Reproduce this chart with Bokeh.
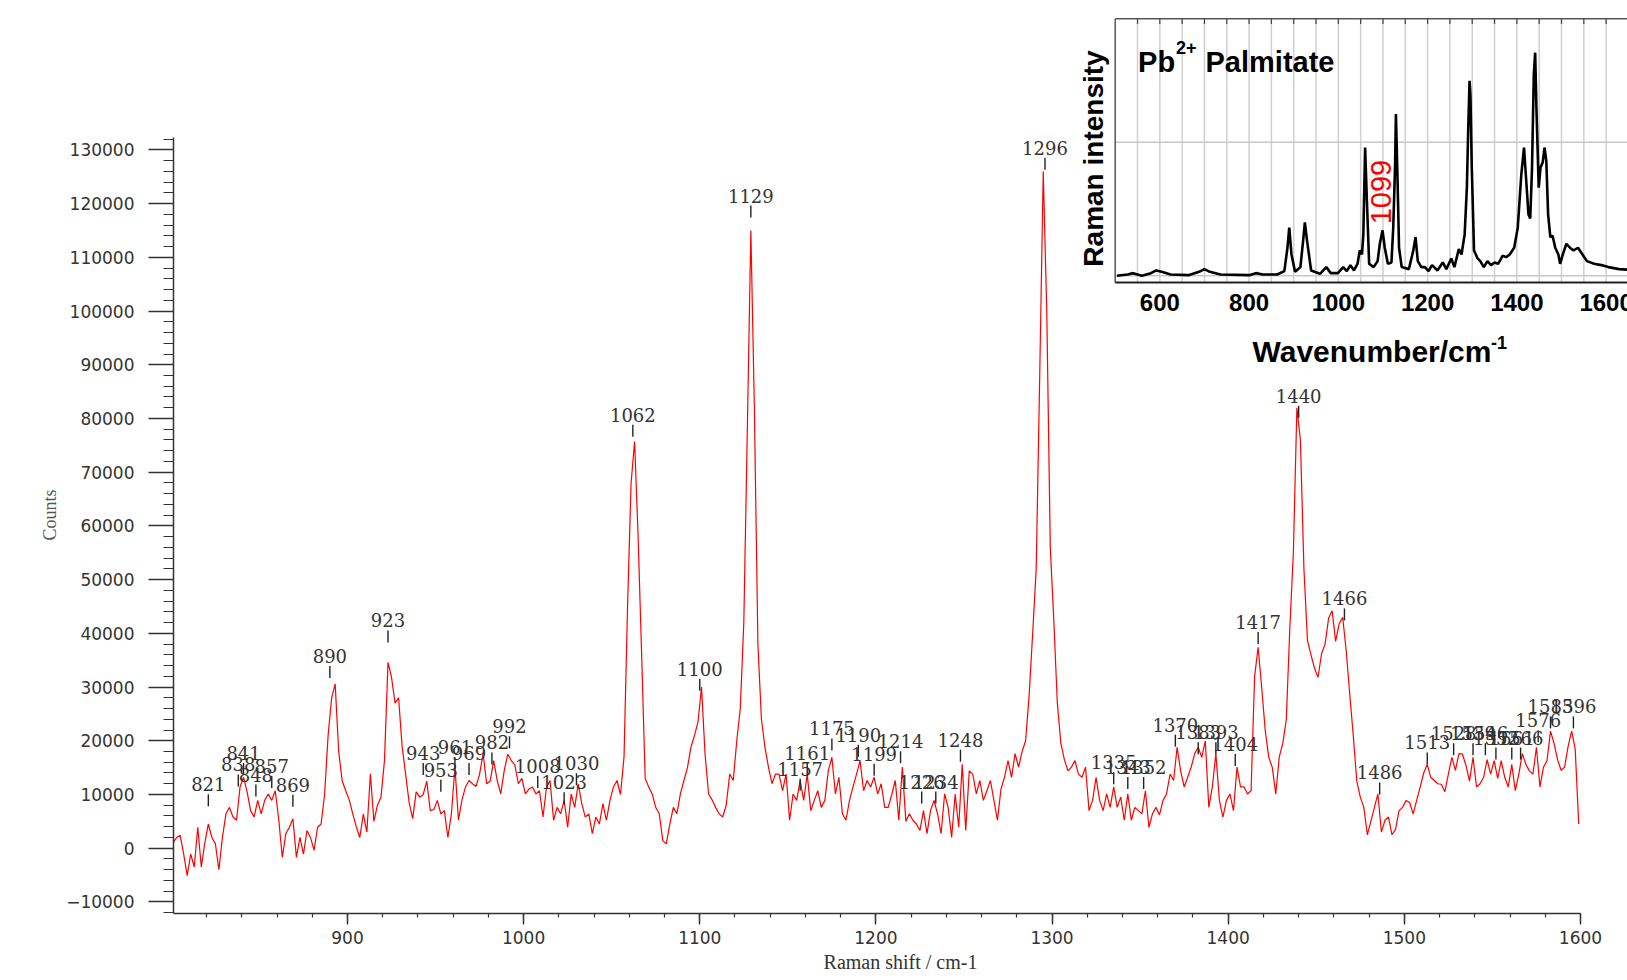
import numpy as np
from bokeh.plotting import figure
from bokeh.models import Range1d, SingleIntervalTicker, BasicTickFormatter, Title
from bokeh.core.properties import value
from bokeh.embed import file_html
from bokeh.resources import INLINE

# ---------------- main spectrum (counts, in thousands), sampled every 2 cm-1 -------------
SPEC_STEP = 2
seg_801 = [1.0, 2.0, 2.4, -1.1, -5.1, -1.1, -3.5, 3.9, -3.5, 1.0,
           4.5, 2.0, 0.8, -4.0, 2.0, 6.4, 7.6, 5.8, 5.2, 11.4,
           13.2, 10.5, 7.0, 5.8, 8.9, 6.4, 8.9, 10.1, 8.9, 10.7,
           5.2, -1.7, 2.7, 3.9, 5.5, -1.7, 2.0, -1.1, 3.3, 2.0,
           -0.4, 3.9, 4.5, 10.0, 21.0, 28.0, 30.6, 18.0, 12.5, 10.7,
           9.0, 6.4, 4.0, 2.0, 6.4, 3.0, 13.8, 5.0, 8.0, 9.5,
           16.3, 34.6, 31.8, 27.0, 28.0, 19.0, 13.8, 8.5, 5.5, 10.5,
           9.5, 10.0, 12.5, 7.0, 7.2, 8.9, 6.4, 7.0, 2.0, 6.4,
           15.1, 5.2, 9.0, 11.4, 12.6, 12.0, 11.5, 13.8, 17.6, 12.0,
           12.5, 16.3, 12.6, 10.1, 14.5, 17.5, 16.3, 15.5, 12.0, 13.0,
           10.1, 11.0]
seg_1005 = [11.4, 10.1, 10.7, 5.8, 11.4, 12.6, 5.2, 7.6, 6.4, 8.9,
            3.9, 10.1, 7.6, 12.0, 8.3, 5.8, 6.4, 2.7, 5.8, 4.5,
            8.3, 5.2, 8.9, 11.4, 12.6, 10.0, 17.0, 45.0, 68.0, 75.7,
            58.0, 36.0, 13.0]
seg_1071 = [11.4, 10.1, 7.6, 6.4, 1.4, 0.8, 4.5, 7.6, 6.4, 10.1,
            12.6, 15.0, 18.8, 21.0, 23.5, 30.0, 17.5, 10.1, 9.0, 7.6,
            6.4, 5.8, 8.0, 13.8, 12.6, 20.0, 26.0, 42.0, 78.0, 115.0,
            82.0, 38.0]
seg_1135 = [24.0, 18.8, 15.1, 12.0, 13.8, 13.8, 10.7, 13.8, 5.2, 10.1,
            8.9, 12.6, 8.9, 13.8, 7.0, 8.9, 10.7, 7.6, 8.9, 14.5,
            16.9, 10.1, 13.2, 6.4, 5.2, 8.9, 11.4, 13.8, 16.3, 10.7,
            12.6, 11.4, 13.2, 10.1, 12.0, 7.6]
seg_1207 = [7.6, 10.0, 12.6, 5.2, 15.1, 5.0, 6.4, 5.2, 4.5, 3.3,
            7.0, 2.7, 7.0, 8.9, 6.4, 2.7, 10.1, 7.6, 2.0, 10.1,
            3.9, 15.6, 3.3, 14.4, 13.8, 10.1, 12.6, 8.9, 10.7, 12.6,
            8.9, 5.2, 11.0, 13.2, 16.3, 13.2, 17.6, 15.1, 18.0]
seg_1285 = [20.0, 28.5, 40.0, 52.0, 88.0, 126.0, 100.0, 56.0, 42.4, 27.0,
            19.5, 16.5]
seg_1309 = [14.4, 15.1, 16.3, 13.8, 13.2, 15.1, 7.0, 8.9, 13.2, 8.9,
            7.0, 10.1, 7.6, 11.4, 7.6, 9.5, 5.2, 10.1, 5.2, 7.6,
            7.0, 6.4, 10.7, 3.9, 6.4, 7.6, 6.2, 8.9, 10.1, 13.8,
            12.6, 18.8, 14.4, 11.4, 13.2, 15.1, 17.6, 18.8, 16.9, 20.0,
            7.6, 11.4, 17.6, 8.9, 5.8, 8.9, 10.1, 7.0, 15.1, 11.4]
seg_1409 = [11.4, 10.1, 10.7, 32.0, 37.4, 30.0, 22.0, 17.0, 15.1, 10.1,
            17.0, 19.5, 24.0, 41.1, 55.0, 82.0, 76.0, 52.0, 38.7, 36.0,
            33.5, 31.8, 36.2, 38.0, 42.8, 44.2, 38.5, 41.8, 43.0, 36.8,
            28.7, 21.0, 12.5, 9.5, 7.6, 2.5, 5.0, 7.6, 10.1, 3.0,
            5.2, 5.8, 2.5, 3.5, 7.0, 7.6, 8.9, 8.5, 6.4, 8.9,
            11.4, 14.0, 15.6, 13.2, 12.6, 12.0, 11.9, 10.5, 13.8, 16.9,
            14.5, 17.6, 17.5, 15.4, 12.5, 16.9, 11.4, 12.0, 13.2, 16.5,
            13.8, 16.3, 13.0, 16.3, 13.2, 11.4, 15.6, 10.7, 13.8, 17.6,
            15.6, 14.4, 13.8, 18.8, 11.4, 15.1, 16.3, 21.8, 19.5, 16.5,
            14.5, 15.1, 19.0, 21.8, 18.5, 4.5]
segments = [(801, seg_801), (1005, seg_1005), (1071, seg_1071), (1135, seg_1135),
            (1207, seg_1207), (1285, seg_1285), (1309, seg_1309), (1409, seg_1409)]

# ---------------- peak labels (wavenumber, label height in thousands of counts) ----------
peak_wn = [821, 838, 841, 848, 857, 869, 890, 923, 943, 953, 961, 969, 982, 992,
           1008, 1023, 1030, 1062, 1100, 1129, 1157, 1161, 1175, 1190, 1199, 1214,
           1226, 1234, 1248, 1296, 1335, 1343, 1352, 1370, 1383, 1393, 1404, 1417,
           1440, 1466, 1486, 1513, 1528, 1539, 1546, 1552, 1561, 1566, 1576, 1583, 1596]
peak_h = [11.9, 15.6, 17.7, 13.7, 15.3, 11.8, 35.8, 42.4, 17.7, 14.6, 18.8, 17.7, 19.7, 22.7,
          15.3, 12.3, 15.8, 80.7, 33.4, 121.5, 14.8, 17.7, 22.3, 21.1, 17.6, 19.9,
          12.4, 12.4, 20.2, 130.4, 16.0, 15.1, 15.1, 23.0, 21.6, 21.6, 19.4, 42.1,
          84.2, 46.5, 14.1, 19.7, 21.4, 21.4, 21.4, 20.6, 20.6, 20.6, 23.8, 26.4, 26.4]

# ---------------- inset: Pb2+ palmitate reference spectrum ---------------------------
inset_wn = [504, 528, 540, 560, 580, 592, 604, 624, 664, 688, 700, 712, 736, 800, 815, 831,
            863, 879, 886, 890, 895, 903, 915, 921, 925, 930, 939, 959, 973, 983, 999,
            1011, 1019, 1027, 1035, 1043, 1048, 1053, 1056, 1060, 1064, 1069, 1079, 1088,
            1093, 1099, 1104, 1111, 1119, 1123, 1127, 1129, 1132, 1136, 1142, 1158, 1168,
            1173, 1178, 1186, 1194, 1202, 1210, 1222, 1234, 1242, 1253, 1260, 1270, 1276,
            1283, 1288, 1291, 1294, 1296, 1299, 1304, 1312, 1318, 1326, 1334, 1342, 1350,
            1358, 1368, 1376, 1384, 1394, 1402, 1410, 1416, 1420, 1426, 1430, 1434, 1438,
            1441, 1444, 1449, 1453, 1458, 1462, 1466, 1470, 1475, 1480, 1486, 1493, 1497,
            1503, 1511, 1519, 1527, 1537, 1547, 1557, 1573, 1589, 1605, 1629, 1652]
inset_int = [0.00, 0.01, 0.02, 0.00, 0.02, 0.04, 0.03, 0.01, 0.005, 0.03, 0.05, 0.03, 0.01,
             0.005, 0.02, 0.01, 0.01, 0.035, 0.21, 0.36, 0.16, 0.03, 0.065, 0.26, 0.40, 0.26,
             0.04, 0.015, 0.065, 0.02, 0.02, 0.065, 0.035, 0.08, 0.04, 0.09, 0.19, 0.16, 0.31,
             0.96, 0.56, 0.09, 0.065, 0.11, 0.24, 0.34, 0.21, 0.09, 0.10, 0.36, 0.81, 1.21,
             0.81, 0.21, 0.065, 0.05, 0.19, 0.29, 0.11, 0.065, 0.065, 0.035, 0.08, 0.04, 0.10,
             0.05, 0.13, 0.065, 0.20, 0.16, 0.31, 0.66, 1.10, 1.46, 1.35, 0.81, 0.19, 0.13,
             0.11, 0.065, 0.11, 0.08, 0.10, 0.09, 0.15, 0.14, 0.16, 0.21, 0.36, 0.76, 0.96,
             0.76, 0.46, 0.43, 0.81, 1.51, 1.67, 1.24, 0.66, 0.81, 0.85, 0.96, 0.86, 0.46,
             0.29, 0.30, 0.21, 0.16, 0.09, 0.16, 0.24, 0.21, 0.19, 0.21, 0.16, 0.11, 0.09,
             0.08, 0.065, 0.05, 0.045]
inset_ticks = [600, 800, 1000, 1200, 1400, 1600]
inset_marked_peak = "1099"

# ---------------- figure (page has no margin: figure fills the window) -----------------
W, H = 1627, 980
p = figure(width=W, height=H, output_backend="svg", toolbar_location=None,
           x_range=Range1d(801.22, 1626.7), y_range=Range1d(-12157, 157814))
p.min_border_left = 173
p.min_border_right = 0
p.min_border_top = 0
p.min_border_bottom = 67
p.outline_line_color = None
p.grid.visible = False
p.background_fill_color = "white"
p.border_fill_color = "white"

AX = "#333333"
p.xaxis.ticker = SingleIntervalTicker(interval=100, num_minor_ticks=5)
p.xaxis.bounds = (801.22, 1600)
p.xaxis.major_tick_out = 11
p.xaxis.major_tick_in = 0
p.xaxis.minor_tick_out = 4
p.xaxis.minor_tick_in = 0
p.xaxis.major_label_standoff = 6
p.xaxis.axis_label = "Raman shift / cm-1"
p.xaxis.axis_label_standoff = 4
p.xaxis.axis_label_text_font = "Liberation Serif"
p.xaxis.axis_label_text_font_style = "normal"
p.xaxis.axis_label_text_font_size = "20px"
p.xaxis.axis_label_text_color = "#333333"

p.yaxis.ticker = SingleIntervalTicker(interval=10000, num_minor_ticks=5)
p.yaxis.bounds = (-12157, 132300)
p.yaxis.formatter = BasicTickFormatter(use_scientific=False)
p.yaxis.major_tick_out = 25
p.yaxis.major_tick_in = 0
p.yaxis.minor_tick_out = 10
p.yaxis.minor_tick_in = 0
p.yaxis.major_label_standoff = 14

for ax in (p.xaxis, p.yaxis):
    ax.axis_line_color = AX
    ax.axis_line_width = 1.5
    ax.major_tick_line_color = AX
    ax.major_tick_line_width = 1.5
    ax.minor_tick_line_color = AX
    ax.minor_tick_line_width = 1.2
    ax.major_label_text_font = "DejaVu Sans"
    ax.major_label_text_font_size = "17px"
    ax.major_label_text_color = "#333333"

p.add_layout(Title(text="Counts", align="left", offset=373, standoff=8,
                   text_font="Liberation Serif", text_font_style="normal",
                   text_font_size="18px", text_color="#555555"), "left")

# spectrum
xs, ys = [], []
for start, vals in segments:
    xs.extend(start + SPEC_STEP * np.arange(len(vals)))
    ys.extend(np.array(vals) * 1000.0)
p.line(xs, ys, line_color="#ff0000", line_width=1.2)

# peak labels: short tick + number
PX = 10000.0 / 53.715  # counts per screen pixel
ph = np.array(peak_h) * 1000.0
p.segment(x0=peak_wn, y0=ph - 22 * PX, x1=peak_wn, y1=ph - 10 * PX,
          line_color="#222222", line_width=1.4)
p.text(x=peak_wn, y=ph, text=[str(v) for v in peak_wn],
       text_font=value("DejaVu Serif"), text_font_size="18px",
       text_align="center", text_baseline="middle", text_color="#333333")

# ---------------- inset (own ranges mapped onto the same canvas) -------------------
p.extra_x_ranges = {"ix": Range1d(-1610.0, 1647.9)}
p.extra_y_ranges = {"iy": Range1d(-4.773, 2.0606)}
IK = dict(x_range_name="ix", y_range_name="iy")
I_LEFT, I_RIGHT, I_BOT, I_TOP = 500, 1700, -0.05, 1.924

p.quad(left=[I_LEFT], right=[I_RIGHT], bottom=[I_BOT], top=[I_TOP],
       fill_color="white", line_color=None, **IK)
gx = np.arange(550, 1651, 50)
p.segment(x0=gx, y0=I_BOT, x1=gx, y1=I_TOP, line_color="#d0d0d0", line_width=1.5, **IK)
p.segment(x0=I_LEFT, y0=[0, 1], x1=I_RIGHT, y1=[0, 1], line_color="#c8c8c8", line_width=1.5, **IK)
p.segment(x0=gx, y0=I_TOP - 0.04, x1=gx, y1=I_TOP, line_color="#444444", line_width=1.2, **IK)
p.segment(x0=[I_LEFT, I_LEFT], y0=[I_BOT, I_TOP], x1=[I_LEFT, I_RIGHT], y1=[I_TOP, I_TOP],
          line_color="#555555", line_width=1.5, **IK)
p.segment(x0=[I_LEFT], y0=[I_BOT], x1=[I_RIGHT], y1=[I_BOT],
          line_color="#222222", line_width=2.2, **IK)
p.line(inset_wn, inset_int, line_color="black", line_width=2.6, **IK)

BOLD = dict(text_font=value("Liberation Sans"), text_font_style="bold", text_color="black")
p.text(x=inset_ticks, y=-0.198, text=[str(t) for t in inset_ticks], text_font_size="24px",
       text_align="center", text_baseline="middle", **BOLD, **IK)
p.text(x=[807.7], y=[-0.567], text=["Wavenumber/cm"], text_font_size="30px",
       text_align="left", text_baseline="alphabetic", **BOLD, **IK)
p.text(x=[1342.0], y=[-0.499], text=["-1"], text_font_size="18px",
       text_align="left", text_baseline="alphabetic", **BOLD, **IK)
p.text(x=[450.3], y=[0.878], text=["Raman intensity"], angle=np.pi / 2, text_font_size="28px",
       text_align="center", text_baseline="middle", **BOLD, **IK)
p.text(x=[551.2], y=[1.600], text=["Pb"], text_font_size="29px",
       text_align="left", text_baseline="alphabetic", **BOLD, **IK)
p.text(x=[636.0], y=[1.711], text=["2+"], text_font_size="18px",
       text_align="left", text_baseline="alphabetic", **BOLD, **IK)
p.text(x=[702.4], y=[1.600], text=["Palmitate"], text_font_size="29px",
       text_align="left", text_baseline="alphabetic", **BOLD, **IK)
p.text(x=[1094.5], y=[0.627], text=[inset_marked_peak], angle=np.pi / 2,
       text_font=value("Liberation Sans"), text_font_size="29px", text_color="#ff0000",
       text_align="center", text_baseline="middle", **IK)

open("out.html", "w").write(file_html(p, INLINE))
